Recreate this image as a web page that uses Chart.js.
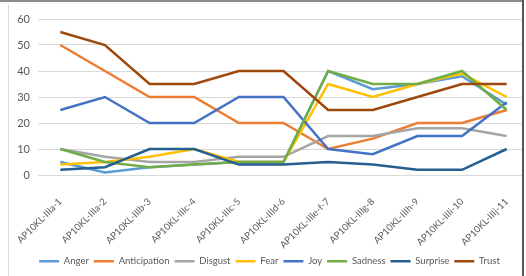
<!DOCTYPE html>
<html>
<head>
<meta charset="utf-8">
<script src="https://cdn.jsdelivr.net/npm/chart.js@4.4.1/dist/chart.umd.min.js"></script>
<style>
  body { margin: 0; background: #fff; }
  #frame { position: absolute; left: 0; top: 0; width: 522px; height: 276px; overflow: hidden; }
  #top { position: absolute; left: 0; top: 0; width: 523px; height: 2px; background: #8c8c8c; }
  #right { position: absolute; left: 522px; top: 0; width: 2px; height: 276px; background: #555; }
  #leftline { position: absolute; left: 8px; top: 5px; width: 1px; height: 271px; background: #d9d9d9; }
</style>
</head>
<body>
<div id="frame">
  <canvas id="myChart" width="534" height="276"></canvas>
</div>
<div id="leftline"></div>
<div id="top"></div>
<div id="right"></div>
<script>
const categories = ['AP10KL-IIIa-1', 'AP10KL-IIIa-2', 'AP10KL-IIIb-3', 'AP10KL-IIIc-4', 'AP10KL-IIIc-5',
  'AP10KL-IIId-6', 'AP10KL-IIIe-f-7', 'AP10KL-IIIg-8', 'AP10KL-IIIh-9', 'AP10KL-IIIi-10', 'AP10KL-IIIj-11'];

const anger        = [5, 1, 3, 4, 5, 5, 40, 33, 35, 38, 27];
const anticipation = [50, 40, 30, 30, 20, 20, 10, 14, 20, 20, 25];
const disgust      = [10, 7, 5, 5, 7, 7, 15, 15, 18, 18, 15];
const fear         = [4, 5, 7, 10, 5, 5, 35, 30, 35, 39, 30];
const joy          = [25, 30, 20, 20, 30, 30, 10, 8, 15, 15, 28];
const sadness      = [10, 5, 3, 4, 5, 5, 40, 35, 35, 40, 25];
const surprise     = [2, 3, 10, 10, 4, 4, 5, 4, 2, 2, 10];
const trust        = [55, 50, 35, 35, 40, 40, 25, 25, 30, 35, 35];

const yTicks = [0, 10, 20, 30, 40, 50, 60];

const series = [
  ['Anger', anger, '#5B9BD5'],
  ['Anticipation', anticipation, '#ED7D31'],
  ['Disgust', disgust, '#A5A5A5'],
  ['Fear', fear, '#FFC000'],
  ['Joy', joy, '#4472C4'],
  ['Sadness', sadness, '#70AD47'],
  ['Surprise', surprise, '#255E91'],
  ['Trust', trust, '#9E480E']
];

const txt = '#595959';

new Chart(document.getElementById('myChart'), {
  type: 'line',
  data: {
    labels: categories,
    datasets: series.map(([name, vals, col], i) => ({
      label: name,
      data: vals,
      borderColor: col,
      backgroundColor: col,
      borderWidth: 2.5,
      pointRadius: 0,
      tension: 0,
      order: -i // later series drawn on top, like the original
    }))
  },
  options: {
    responsive: false,
    animation: false,
    layout: { padding: { left: 10, right: 5, top: 19, bottom: 0 } },
    plugins: {
      legend: {
        position: 'bottom',
        labels: {
          color: txt,
          font: { family: 'Lato', size: 9.5 },
          usePointStyle: true,
          pointStyle: 'line',
          pointStyleWidth: 20,
          boxHeight: 8,
          padding: 5,
          sort: (a, b) => a.datasetIndex - b.datasetIndex
        }
      },
      tooltip: { enabled: false }
    },
    scales: {
      x: {
        offset: true,
        afterFit: s => { s.height = 76.5; },
        grid: { display: false },
        border: { display: false },
        ticks: {
          color: txt,
          font: { family: 'Lato', size: 9.5 },
          minRotation: 45,
          maxRotation: 45,
          autoSkip: false,
          padding: 13
        }
      },
      y: {
        min: 0,
        max: 60,
        afterFit: s => { s.width = 28; },
        afterBuildTicks: s => { s.ticks = yTicks.map(v => ({ value: v })); },
        grid: { color: '#d9d9d9', lineWidth: 1, drawTicks: false },
        border: { display: false },
        ticks: {
          color: txt,
          font: { family: 'Lato', size: 11 },
          padding: 8
        }
      }
    }
  }
});
</script>
</body>
</html>
